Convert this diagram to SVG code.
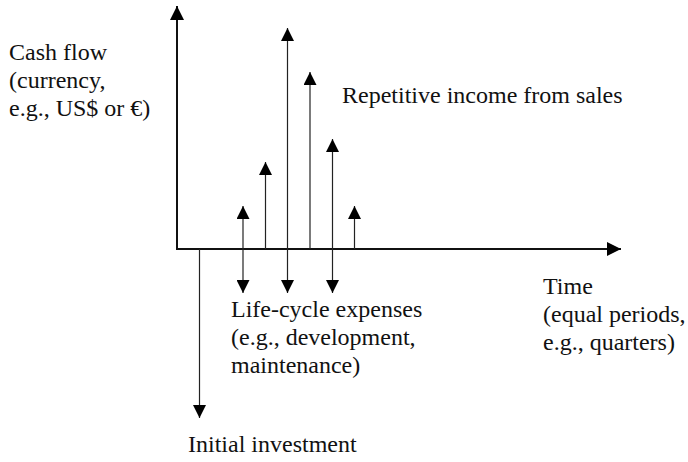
<svg xmlns="http://www.w3.org/2000/svg" width="688" height="462" viewBox="0 0 688 462">
  <style>
    .lbl { font-family: 'Liberation Serif', 'DejaVu Serif', serif; font-size: 24px; fill: #111; }
    .axis { stroke: #111; stroke-width: 2; fill: none; }
    .flow { stroke: #222; stroke-width: 1.2; fill: none; }
  </style>
  <defs>
    <marker id="head" viewBox="0 0 13 13" refX="13" refY="6.5" markerWidth="13" markerHeight="13" markerUnits="userSpaceOnUse" orient="auto-start-reverse">
      <path d="M0,0 L13,6.5 L0,13 Z" fill="#000"/>
    </marker>
    <marker id="axhead" viewBox="0 0 14 14" refX="14" refY="7" markerWidth="14" markerHeight="14" markerUnits="userSpaceOnUse" orient="auto">
      <path d="M0,0 L14,7 L0,14 Z" fill="#000"/>
    </marker>
  </defs>
  <rect width="688" height="462" fill="#fff"/>
  <g id="connectors">
    <line class="axis" x1="177" y1="250" x2="177" y2="6" marker-end="url(#axhead)"/>
    <line class="axis" x1="176" y1="249" x2="621" y2="249" marker-end="url(#axhead)"/>
    <line class="flow" x1="243" y1="293" x2="243" y2="206" marker-start="url(#head)" marker-end="url(#head)"/>
    <line class="flow" x1="265.5" y1="249" x2="265.5" y2="162" marker-end="url(#head)"/>
    <line class="flow" x1="287.5" y1="293" x2="287.5" y2="28" marker-start="url(#head)" marker-end="url(#head)"/>
    <line class="flow" x1="310" y1="249" x2="310" y2="72" marker-end="url(#head)"/>
    <line class="flow" x1="332.5" y1="293" x2="332.5" y2="139" marker-start="url(#head)" marker-end="url(#head)"/>
    <line class="flow" x1="354.5" y1="249" x2="354.5" y2="206" marker-end="url(#head)"/>
    <line class="flow" x1="199.5" y1="249" x2="199.5" y2="418" marker-end="url(#head)"/>
  </g>
  <g class="lbl" font-family="Liberation Serif, DejaVu Serif, serif">
    <g id="cash-flow">
      <text x="9" y="60">Cash flow</text>
      <text x="9" y="88">(currency,</text>
      <text x="9" y="116">e.g., US$ or €)</text>
    </g>
    <g id="repetitive-income">
      <text x="342" y="103">Repetitive income from sales</text>
    </g>
    <g id="time">
      <text x="543" y="294">Time</text>
      <text x="543" y="322">(equal periods,</text>
      <text x="543" y="350">e.g., quarters)</text>
    </g>
    <g id="life-cycle-expenses">
      <text x="231" y="317">Life-cycle expenses</text>
      <text x="231" y="345">(e.g., development,</text>
      <text x="231" y="373">maintenance)</text>
    </g>
    <g id="initial-investment">
      <text x="188" y="452">Initial investment</text>
    </g>
  </g>
</svg>
